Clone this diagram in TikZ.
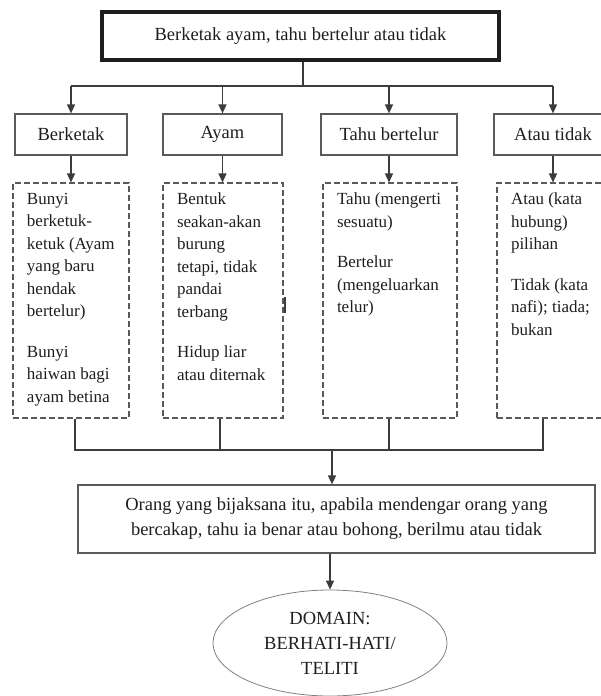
\documentclass[tikz,border=0pt]{standalone}
\usepackage{fontspec}
\setmainfont{Liberation Serif}
\usetikzlibrary{arrows.meta,shapes.geometric}

\definecolor{linegray}{HTML}{3C3C3C}
\definecolor{boxgray}{HTML}{5A5A5A}
\definecolor{inkgray}{HTML}{1E1E1E}

\tikzset{
  >={Triangle[width=8pt,length=9pt]},
  every node/.style={text=inkgray, font=\fontsize{18.5}{25}\selectfont},
  conn/.style={draw=linegray, line width=1.4pt},
  titlebox/.style={draw=inkgray, line width=4pt, minimum width=397pt, minimum height=48pt},
  wordbox/.style={draw=boxgray, line width=1.2pt, minimum height=41pt},
  notebox/.style={draw=boxgray, line width=1.1pt, dash pattern=on 6pt off 3pt,
    inner xsep=14pt, inner ysep=10pt, minimum height=235pt, font=\fontsize{17}{22.5}\selectfont},
  meaningbox/.style={draw=boxgray, line width=1.2pt, minimum width=517pt, minimum height=68pt, align=center},
  valuebox/.style={ellipse, draw=gray, line width=0.8pt, minimum width=234pt, minimum height=106pt,
    inner sep=0pt, align=center}
}

\begin{document}
\begin{tikzpicture}[x=1pt, y=-1pt]
    \useasboundingbox (0,0) rectangle (601,696);
    \clip (0,0) rectangle (601,696);

    % Draw the proverb box
    \node[titlebox] (title) at (300.5,36) {Berketak ayam, tahu bertelur atau tidak};

    % Draw the word boxes
    \node[wordbox, minimum width=112pt] (wBerketak) at (71,134.5) {Berketak};
    \node[wordbox, minimum width=119pt] (wAyam) at (222.5,134.5) {Ayam};
    \node[wordbox, minimum width=136pt] (wTahu) at (389,134.5) {Tahu bertelur};
    \node[wordbox, minimum width=118pt] (wAtau) at (553,134.5) {Atau tidak};

    % Draw the meaning notes
    \node[notebox, minimum width=116pt] (nBerketak) at (71,300.5)
        {\parbox[t][215pt][t]{88pt}{Bunyi\\ berketuk-\\ ketuk (Ayam\\ yang baru\\ hendak\\ bertelur)\\[18pt] Bunyi\\ haiwan bagi\\ ayam betina}};
    \node[notebox, minimum width=120pt] (nAyam) at (223,300.5)
        {\parbox[t][215pt][t]{92pt}{Bentuk\\ seakan-akan\\ burung\\ tetapi, tidak\\ pandai\\ terbang\\[18pt] Hidup liar\\ atau diternak}};
    \node[notebox, minimum width=134pt] (nTahu) at (390,300.5)
        {\parbox[t][215pt][t]{106pt}{Tahu (mengerti\\ sesuatu)\\[18pt] Bertelur\\ (mengeluarkan\\ telur)}};
    \node[notebox, minimum width=110pt] (nAtau) at (552,300.5)
        {\parbox[t][215pt][t]{82pt}{Atau (kata\\ hubung)\\ pilihan\\[18pt] Tidak (kata\\ nafi); tiada;\\ bukan}};

    % Draw the fan out from the proverb
    \coordinate (fan) at (303,86);
    \draw[conn] (title.south -| fan) -- (fan);
    \draw[conn] (fan -| wBerketak.north) -- (fan -| wAtau.north);
    \foreach \w in {wBerketak,wAyam,wTahu,wAtau}
        \draw[conn,->] (fan -| \w.north) -- (\w.north);
    \foreach \w/\n in {wBerketak/nBerketak,wAyam/nAyam,wTahu/nTahu,wAtau/nAtau}
        \draw[conn,->] (\w.south) -- (\w.south |- \n.north);

    % Draw the merge into the meaning
    \coordinate (dropA) at (75,450);
    \coordinate (dropB) at (220,450);
    \coordinate (dropC) at (389,450);
    \coordinate (dropD) at (543,450);
    \coordinate (merge) at (332,450);
    \draw[conn] (dropA |- nBerketak.south) -- (dropA) -- (dropD) -- (dropD |- nAtau.south);
    \draw[conn] (dropB |- nAyam.south) -- (dropB);
    \draw[conn] (dropC |- nTahu.south) -- (dropC);
    \draw[line width=1.4pt, linegray] (285,297) -- (285,313);

    \node[meaningbox] (meaning) at (336.5,519)
        {Orang yang bijaksana itu, apabila mendengar orang yang\\ bercakap, tahu ia benar atau bohong, berilmu atau tidak};
    \draw[conn,->] (merge) -- (merge |- meaning.north);

    % Draw the value
    \node[valuebox] (value) at (330,643) {DOMAIN:\\ BERHATI-HATI/\\ TELITI};
    \draw[conn,->] (meaning.south -| value.north) -- (value.north);
\end{tikzpicture}
\end{document}
